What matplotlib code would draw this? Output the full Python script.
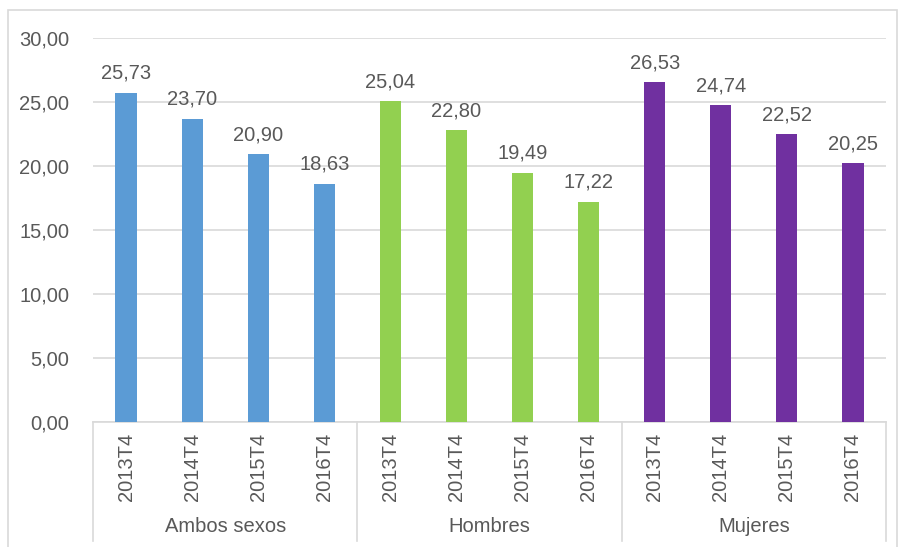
import matplotlib.pyplot as plt
from matplotlib.patches import Rectangle

groups = ["Ambos sexos", "Hombres", "Mujeres"]
periods = ["2013T4", "2014T4", "2015T4", "2016T4"]
ambos = [25.73, 23.70, 20.90, 18.63]
hombres = [25.04, 22.80, 19.49, 17.22]
mujeres = [26.53, 24.74, 22.52, 20.25]
colors = ["#5B9BD5", "#92D050", "#7030A0"]

txt = "#595959"
grid = "#D9D9D9"
fs = 14.5
plt.rcParams['font.family'] = ['Liberation Sans', 'DejaVu Sans']

fig = plt.figure(figsize=(8.99, 5.47), dpi=100)
W, H = 899.0, 547.0
ax = fig.add_axes([93 / W, 1 - 422 / H, (886 - 93) / W, (422 - 38) / H])

# outer chart border (bottom edge runs off the image)
fig.patches.append(Rectangle((8 / W, -5 / H), (897 - 8) / W, (537 + 5) / H,
                             transform=fig.transFigure, fill=False,
                             edgecolor=grid, linewidth=1.2))

series = [ambos, hombres, mujeres]
x = 0
for g in range(len(groups)):
    for i in range(len(periods)):
        v = series[g][i]
        ax.bar(x, v, width=0.32, color=colors[g], zorder=3)
        ax.annotate(("%.2f" % v).replace(".", ","), (x, v), xytext=(0, 7),
                    textcoords="offset points", ha="center", va="bottom",
                    fontsize=fs, color=txt)
        ax.text(x, -0.028, periods[i], transform=ax.get_xaxis_transform(),
                rotation=90, ha="center", va="top", fontsize=fs, color=txt)
        x += 1
    ax.text(g * 4 + 1.5, -0.273, groups[g], transform=ax.get_xaxis_transform(),
            ha="center", va="center", fontsize=fs, color=txt)

# group separators
for s in [-0.5, 3.5, 7.5, 11.5]:
    ax.plot([s, s], [0, -0.31], transform=ax.get_xaxis_transform(),
            color=grid, linewidth=1.2, clip_on=False)

ax.set_xlim(-0.5, 11.5)
ax.set_ylim(0, 30)
ax.set_yticks(range(0, 31, 5))
ax.set_yticklabels(["%d,00" % t for t in range(0, 31, 5)], fontsize=fs, color=txt)
ax.set_xticks([])
ax.tick_params(axis='y', length=0, pad=17)
ax.grid(axis='y', color=grid, linewidth=1.2, zorder=0)
for sp in ["top", "right", "left"]:
    ax.spines[sp].set_visible(False)
ax.spines["bottom"].set_color(grid)
ax.spines["bottom"].set_linewidth(1.2)

fig.savefig("out.png", dpi=100)
